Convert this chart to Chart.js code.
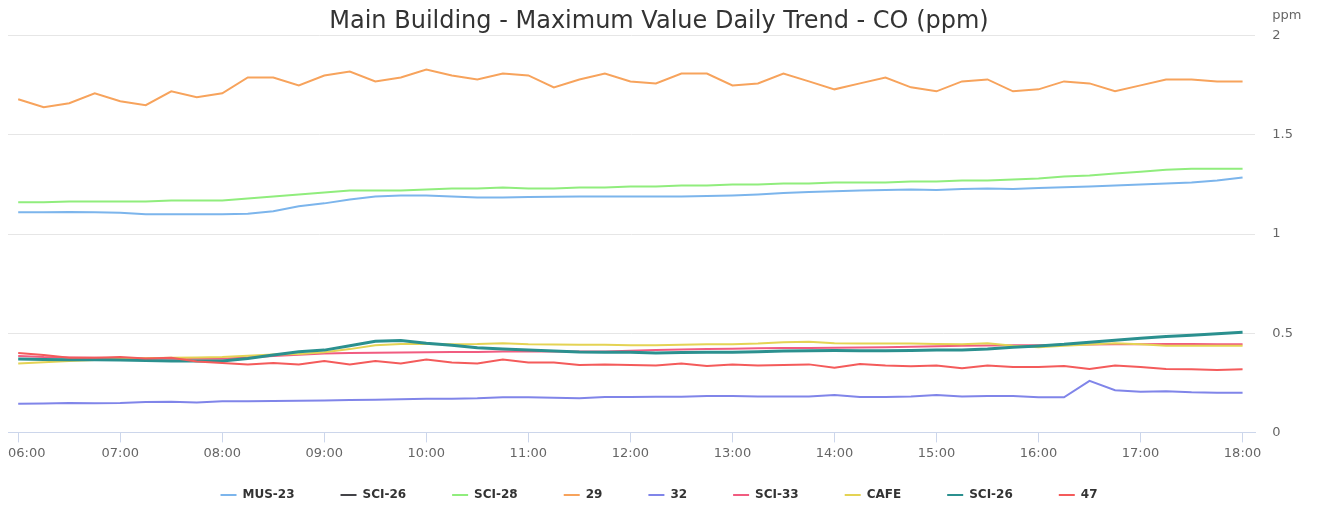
<!DOCTYPE html>
<html>
<head>
<meta charset="utf-8">
<script src="https://cdn.jsdelivr.net/npm/chart.js@4/dist/chart.umd.min.js"></script>
<style>
  html, body { margin: 0; padding: 0; background: #fff; }
  #wrap { width: 1321px; height: 509px; }
</style>
</head>
<body>
<div id="wrap"><canvas id="coTrendChart" width="1321" height="509"></canvas></div>
<script>
// Time slots, every 15 minutes from 06:00 to 18:00
const timeLabels = [
  '06:00', '06:15', '06:30', '06:45', '07:00', '07:15', '07:30', '07:45',
  '08:00', '08:15', '08:30', '08:45', '09:00', '09:15', '09:30', '09:45',
  '10:00', '10:15', '10:30', '10:45', '11:00', '11:15', '11:30', '11:45',
  '12:00', '12:15', '12:30', '12:45', '13:00', '13:15', '13:30', '13:45',
  '14:00', '14:15', '14:30', '14:45', '15:00', '15:15', '15:30', '15:45',
  '16:00', '16:15', '16:30', '16:45', '17:00', '17:15', '17:30', '17:45',
  '18:00'
];

const seriesNames = ['MUS-23', 'SCI-26', 'SCI-28', '29', '32', 'SCI-33', 'CAFE', 'SCI-26', '47'];
const seriesColors = ['#7cb5ec', '#434348', '#90ed7d', '#f7a35c', '#8085e9', '#f15c80', '#e4d354', '#2b908f', '#f45b5b'];

const yTicks = [0, 0.5, 1, 1.5, 2];

// CO maximum values (ppm)
const mus23 = [
  1.11, 1.11, 1.112, 1.11, 1.108, 1.10, 1.10, 1.10, 1.10, 1.103, 1.115, 1.14,
  1.155, 1.175, 1.19, 1.195, 1.195, 1.19, 1.185, 1.185, 1.187, 1.188, 1.19, 1.19,
  1.19, 1.19, 1.19, 1.192, 1.195, 1.20, 1.207, 1.212, 1.216, 1.22, 1.222, 1.225,
  1.223, 1.228, 1.23, 1.228, 1.232, 1.236, 1.24, 1.245, 1.25, 1.255, 1.26, 1.27,
  1.285
];
const sci26a = []; // no readings shown
const sci28 = [
  1.16, 1.16, 1.165, 1.165, 1.165, 1.165, 1.17, 1.17, 1.17, 1.18, 1.19, 1.20,
  1.21, 1.22, 1.22, 1.22, 1.225, 1.23, 1.23, 1.235, 1.23, 1.23, 1.235, 1.235,
  1.24, 1.24, 1.245, 1.245, 1.25, 1.25, 1.255, 1.255, 1.26, 1.26, 1.26, 1.265,
  1.265, 1.27, 1.27, 1.275, 1.28, 1.29, 1.295, 1.305, 1.315, 1.325, 1.33, 1.33,
  1.33
];
const s29 = [
  1.68, 1.64, 1.66, 1.71, 1.67, 1.65, 1.72, 1.69, 1.71, 1.79, 1.79, 1.75,
  1.80, 1.82, 1.77, 1.79, 1.83, 1.80, 1.78, 1.81, 1.80, 1.74, 1.78, 1.81,
  1.77, 1.76, 1.81, 1.81, 1.75, 1.76, 1.81, 1.77, 1.73, 1.76, 1.79, 1.74,
  1.72, 1.77, 1.78, 1.72, 1.73, 1.77, 1.76, 1.72, 1.75, 1.78, 1.78, 1.77,
  1.77
];
const s32 = [
  0.145, 0.146, 0.148, 0.147, 0.148, 0.153, 0.155, 0.151, 0.157, 0.157, 0.158, 0.16,
  0.161, 0.163, 0.165, 0.167, 0.17, 0.17, 0.172, 0.177, 0.177, 0.175, 0.172, 0.178,
  0.178, 0.18, 0.18, 0.183, 0.183, 0.181, 0.181, 0.181, 0.188, 0.178, 0.178, 0.181,
  0.188, 0.181, 0.183, 0.183, 0.177, 0.177, 0.26, 0.213, 0.205, 0.207, 0.202, 0.2,
  0.2
];
const sci33 = [
  0.385, 0.38, 0.378, 0.376, 0.374, 0.373, 0.372, 0.372, 0.372, 0.378, 0.385, 0.392,
  0.398, 0.40, 0.402, 0.403, 0.404, 0.405, 0.406, 0.408, 0.408, 0.408, 0.408, 0.408,
  0.412, 0.415, 0.418, 0.42, 0.422, 0.424, 0.425, 0.426, 0.427, 0.428, 0.43, 0.432,
  0.435, 0.437, 0.438, 0.44, 0.44, 0.442, 0.443, 0.444, 0.445, 0.446, 0.446, 0.445,
  0.445
];
const cafe = [
  0.348, 0.354, 0.36, 0.365, 0.37, 0.374, 0.377, 0.378, 0.38, 0.387, 0.393, 0.395,
  0.404, 0.42, 0.44, 0.446, 0.446, 0.445, 0.446, 0.45, 0.445, 0.443, 0.442, 0.442,
  0.44, 0.44, 0.442, 0.444, 0.445, 0.448, 0.455, 0.457, 0.45, 0.448, 0.448, 0.448,
  0.446, 0.445, 0.45, 0.437, 0.43, 0.437, 0.443, 0.45, 0.445, 0.437, 0.437, 0.437,
  0.437
];
const sci26b = [
  0.37, 0.368, 0.366, 0.366, 0.365, 0.362, 0.36, 0.36, 0.36, 0.373, 0.39, 0.407,
  0.415, 0.437, 0.46, 0.463, 0.45, 0.44, 0.427, 0.42, 0.415, 0.41, 0.405, 0.404,
  0.404, 0.40, 0.403, 0.404, 0.404, 0.407, 0.41, 0.412, 0.413, 0.412, 0.412, 0.413,
  0.415, 0.415, 0.42, 0.43, 0.436, 0.444, 0.455, 0.465, 0.475, 0.483, 0.49, 0.498,
  0.505
];
const s47 = [
  0.40, 0.39, 0.377, 0.377, 0.38, 0.373, 0.377, 0.357, 0.35, 0.343, 0.35, 0.343,
  0.36, 0.343, 0.36, 0.348, 0.368, 0.353, 0.348, 0.368, 0.353, 0.353, 0.34, 0.343,
  0.34, 0.337, 0.348, 0.335, 0.343, 0.337, 0.34, 0.343, 0.326, 0.345, 0.337, 0.333,
  0.337, 0.323, 0.337, 0.33, 0.33, 0.335, 0.32, 0.337, 0.33, 0.32, 0.318, 0.315,
  0.318
];

const seriesValues = [mus23, sci26a, sci28, s29, s32, sci33, cafe, sci26b, s47];

const FONT = "'DejaVu Sans', sans-serif";

// unit label, first time label kept inside the canvas, legend row near the bottom
const extras = {
  id: 'extras',
  afterLayout(chart) {
    const lg = chart.legend;
    lg.top = 443;
    lg.bottom = chart.height;
    lg.height = lg.bottom - lg.top;
  },
  afterDraw(chart) {
    const y = chart.scales.y;
    const x = chart.scales.x;
    const ctx = chart.ctx;
    ctx.save();
    ctx.font = '13px ' + FONT;
    ctx.fillStyle = '#666666';
    ctx.textAlign = 'left';
    ctx.textBaseline = 'middle';
    ctx.fillText('ppm', y.left + 17, 16);
    ctx.fillText(timeLabels[0], chart.chartArea.left, x.top + 10 + 3 + 7.8);
    ctx.restore();
  }
};

const ctx = document.getElementById('coTrendChart');
new Chart(ctx.getContext('2d'), {
  type: 'line',
  data: {
    datasets: seriesNames.map((name, i) => ({
      label: name,
      data: seriesValues[i].map((v, k) => ({ x: k, y: v })),
      borderColor: seriesColors[i],
      backgroundColor: seriesColors[i],
      borderWidth: name === 'SCI-26' ? 3 : 2,
      pointRadius: 0,
      tension: 0,
      order: -i
    }))
  },
  options: {
    responsive: false,
    devicePixelRatio: 1,
    animation: false,
    layout: { padding: { left: 8, right: 11, top: 0, bottom: 5 } },
    scales: {
      x: {
        type: 'linear',
        min: -0.4,
        max: 48.5,
        afterBuildTicks(scale) {
          scale.ticks = timeLabels
            .map((t, k) => ({ value: k }))
            .filter(t => timeLabels[t.value].endsWith(':00'));
        },
        ticks: {
          autoSkip: false,
          maxRotation: 0,
          padding: 3,
          color: '#666666',
          font: { family: FONT, size: 13 },
          callback: (v) => (v === 0 ? '' : timeLabels[v])
        },
        grid: {
          drawOnChartArea: false,
          drawTicks: true,
          tickLength: 10,
          color: '#ccd6eb'
        },
        border: { color: '#ccd6eb' }
      },
      y: {
        position: 'right',
        min: 0,
        max: 2,
        afterBuildTicks(scale) {
          scale.ticks = yTicks.map(v => ({ value: v }));
        },
        ticks: {
          padding: 17,
          color: '#666666',
          font: { family: FONT, size: 13 },
          callback: (v) => String(v)
        },
        grid: { color: '#e6e6e6', drawTicks: false },
        border: { display: false }
      }
    },
    plugins: {
      title: {
        display: true,
        text: 'Main Building - Maximum Value Daily Trend - CO (ppm)',
        color: '#333333',
        font: { family: FONT, size: 24, weight: 'normal' },
        padding: { top: 7, bottom: 0 }
      },
      legend: {
        position: 'bottom',
        maxHeight: 40,
        labels: {
          boxWidth: 16,
          boxHeight: 2,
          padding: 46,
          color: '#333333',
          font: { family: FONT, size: 12, weight: 'bold' },
          sort: (a, b) => a.datasetIndex - b.datasetIndex,
          generateLabels(chart) {
            return Chart.defaults.plugins.legend.labels.generateLabels(chart).map(item => {
              item.lineWidth = 0;
              item.fillStyle = item.strokeStyle;
              return item;
            });
          }
        }
      },
      tooltip: { enabled: false }
    }
  },
  plugins: [extras]
});
</script>
</body>
</html>
